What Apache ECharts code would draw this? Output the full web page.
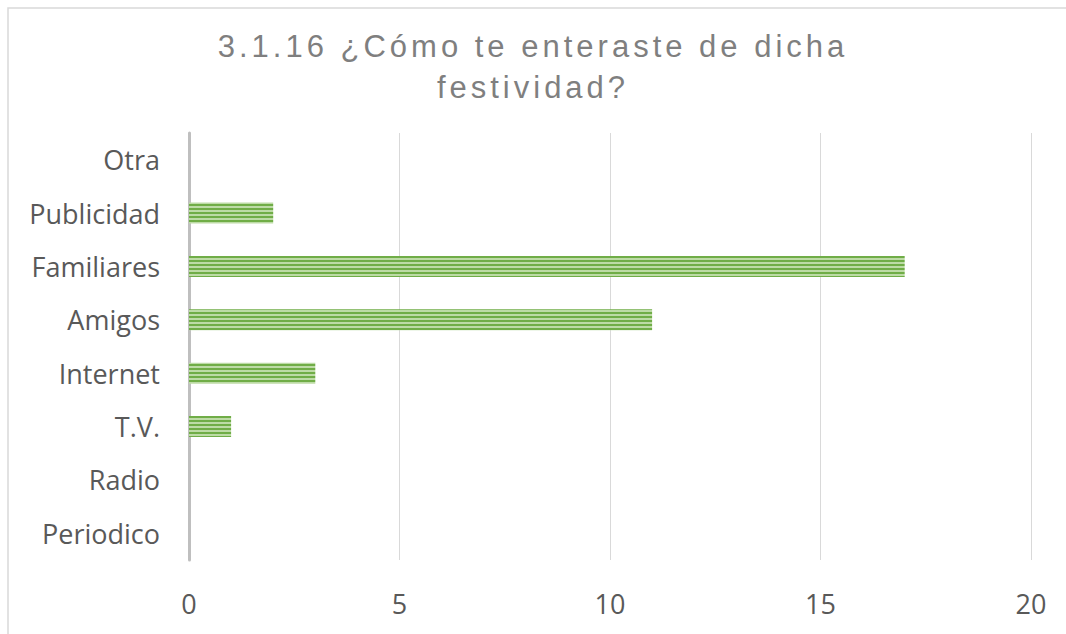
<!DOCTYPE html>
<html>
<head>
<meta charset="utf-8">
<script src="https://cdn.jsdelivr.net/npm/echarts@6/dist/echarts.min.js"></script>
<style>
  html, body { margin: 0; padding: 0; background: #fff; }
  #chart { width: 1066px; height: 634px; }
  /* title is spaced out like the original */
  #chart svg text[style*="Liberation Sans"] { letter-spacing: 4px; }
</style>
</head>
<body>
<div id="chart"></div>
<script>
// categories, bottom to top
const categories = ['Periodico', 'Radio', 'T.V.', 'Internet', 'Amigos', 'Familiares', 'Publicidad', 'Otra']
const values = [0, 0, 1, 3, 11, 17, 2, 0]
const titleText = '3.1.16 ¿Cómo te enteraste de dicha\nfestividad?'

// horizontal striped fill for the bars
function stripePattern() {
  const c = document.createElement('canvas')
  c.width = 4
  c.height = 4
  const ctx = c.getContext('2d')
  ctx.fillStyle = '#bddba6'
  ctx.fillRect(0, 0, 4, 4)
  ctx.fillStyle = '#70ad47'
  ctx.fillRect(0, 0, 4, 2)
  return c.toDataURL()
}

const chart = echarts.init(document.getElementById('chart'), null, { renderer: 'svg' })

const option = {
  backgroundColor: '#fff',
  animation: false,
  title: {
    text: titleText,
    left: 'center',
    top: 21,
    textStyle: {
      fontFamily: 'Liberation Sans',
      fontSize: 31,
      fontWeight: 'normal',
      color: '#7f7f7f',
      lineHeight: 41,
    },
  },
  graphic: [
    {
      type: 'rect',
      shape: { x: 8, y: 8, width: 1100, height: 700 },
      style: { fill: 'none', stroke: '#d9d9d9', lineWidth: 1.5 },
      silent: true,
      z: -10,
    },
  ],
  grid: {
    left: 189,
    right: 35,
    top: 133,
    bottom: 74,
    containLabel: false,
  },
  xAxis: {
    type: 'value',
    min: 0,
    max: 20,
    interval: 5,
    axisLine: { show: false },
    axisTick: { show: false },
    splitLine: { lineStyle: { color: '#d9d9d9', width: 1 } },
    axisLabel: {
      margin: 30,
      color: '#595959',
      fontFamily: 'Open Sans',
      fontSize: 27,
    },
  },
  yAxis: {
    type: 'category',
    data: categories,
    axisLine: { show: true, lineStyle: { color: '#bfbfbf', width: 3 } },
    axisTick: { show: false },
    axisLabel: {
      margin: 29,
      color: '#595959',
      fontFamily: 'Open Sans',
      fontSize: 27,
    },
  },
  series: [
    {
      type: 'bar',
      data: values,
      barWidth: 21,
      itemStyle: {
        color: { image: stripePattern(), repeat: 'repeat' },
      },
    },
  ],
}

chart.setOption(option)
</script>
</body>
</html>
